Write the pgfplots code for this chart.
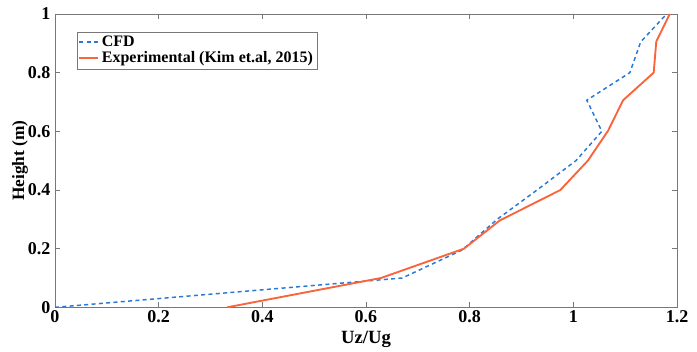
\documentclass[border=0pt]{standalone}
\usepackage{pgfplots}
\pgfplotsset{compat=1.18}
\usepackage{fontspec}
\setmainfont{Liberation Serif}
\definecolor{cfdblue}{RGB}{40,120,215}
\definecolor{expor}{RGB}{250,100,60}
\definecolor{axgray}{RGB}{120,120,120}
\begin{document}
\begin{tikzpicture}
\begin{axis}[
  scale only axis,
  width=466.5pt, height=220pt,
  xmin=0, xmax=1.2, ymin=0, ymax=1,
  xtick={0,0.2,0.4,0.6,0.8,1,1.2},
  ytick={0,0.2,0.4,0.6,0.8,1},
  xticklabels={0,0.2,0.4,0.6,0.8,1,1.2},
  yticklabels={0,0.2,0.4,0.6,0.8,1},
  tick align=inside,
  major tick length=4pt,
  axis line style={axgray, line width=0.6pt},
  every tick/.style={axgray, line width=0.6pt},
  tick label style={font=\fontsize{13.5pt}{15pt}\selectfont\bfseries},
  xticklabel style={inner sep=1pt, yshift=-1.5pt},
  xlabel={\fontsize{14pt}{16pt}\selectfont\bfseries Uz/Ug},
  ylabel={\fontsize{13pt}{15pt}\selectfont\bfseries Height (m)},
  xlabel style={yshift=-4pt, inner sep=0.5pt},
  ylabel style={yshift=-7pt},
  legend style={at={(0.035,0.94)}, anchor=north west, draw=axgray,
    font=\fontsize{12pt}{13pt}\selectfont\bfseries, inner sep=1pt, row sep=-1.5pt},
  legend cell align=left,
  legend image code/.code={\draw[#1] (0cm,0cm) -- (0.5cm,0cm);},
]
\addplot[cfdblue, line width=1.1pt, dash pattern=on 3pt off 2.5pt] coordinates {
 (0,0) (0.67,0.1) (0.785,0.195) (0.853,0.3) (0.93,0.4) (1.005,0.5) (1.055,0.6) (1.026,0.706) (1.109,0.8) (1.13,0.905) (1.18,1.0)
};
\addlegendentry{CFD}
\addplot[expor, line width=1.4pt] coordinates {
 (0.332,0) (0.629,0.1) (0.789,0.2) (0.858,0.296) (0.975,0.4) (1.028,0.5) (1.067,0.602) (1.096,0.706) (1.155,0.8) (1.16,0.906) (1.186,1.0)
};
\addlegendentry{Experimental (Kim et.al, 2015)}
\end{axis}
\pgfresetboundingbox
\path[use as bounding box] (current axis.south west) ++(-41.25pt,-33.5pt) rectangle ([xshift=15pt,yshift=10.5pt]current axis.north east);
\end{tikzpicture}
\end{document}
